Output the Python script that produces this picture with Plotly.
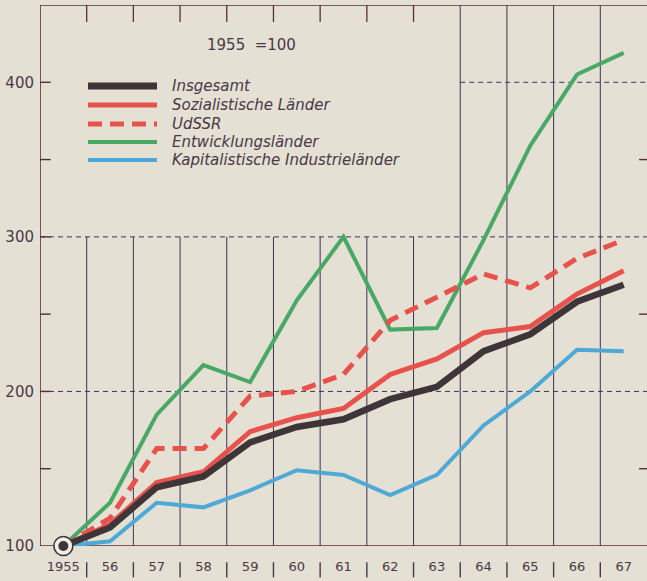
import plotly.graph_objects as go

years = list(range(1955, 1968))
tick_labels = ["1955", "56", "57", "58", "59", "60", "61", "62", "63", "64", "65", "66", "67"]

insgesamt = [100, 112, 138, 145, 167, 177, 182, 195, 203, 226, 237, 258, 269]
sozialistische = [100, 114, 141, 148, 174, 183, 189, 211, 221, 238, 242, 263, 278]
udssr = [100, 118, 163, 163, 197, 200, 211, 246, 261, 276, 267, 286, 298]
entwicklung = [100, 128, 185, 217, 206, 259, 300, 240, 241, 298, 359, 405, 419]
kapitalistische = [100, 103, 128, 125, 136, 149, 146, 133, 146, 178, 200, 227, 226]

names = ["Insgesamt", "Sozialistische Länder", "UdSSR", "Entwicklungsländer",
         "Kapitalistische Industrieländer"]
series = [insgesamt, sozialistische, udssr, entwicklung, kapitalistische]
colors = ["#3d3538", "#e8524c", "#e8524c", "#48a865", "#4fa9d6"]
widths = [6.5, 5, 5, 4, 4]
dashes = ["solid", "solid", "14px,8px", "solid", "solid"]
draw_order = [4, 3, 2, 1, 0]

y_ticks = [100, 200, 300, 400]
BG = "#e4e0d3"
INK = "#4a3848"
GRID = "#3e3358"
AXIS = "#5a2c3c"
FONT = "DejaVu Sans, Liberation Sans, sans-serif"

fig = go.Figure()
for i in draw_order:
    fig.add_trace(go.Scatter(
        x=years, y=series[i], mode="lines", name=names[i],
        line=dict(color=colors[i], width=widths[i], dash=dashes[i]),
        cliponaxis=False, showlegend=False, hoverinfo="skip"))

# start marker (base year)
fig.add_trace(go.Scatter(x=[years[0]], y=[insgesamt[0]], mode="markers",
                         marker=dict(size=19, color="#f2efe6", line=dict(color="#3d3538", width=1.6)),
                         cliponaxis=False, showlegend=False, hoverinfo="skip"))
fig.add_trace(go.Scatter(x=[years[0]], y=[insgesamt[0]], mode="markers",
                         marker=dict(size=10, color="#3d3538"),
                         cliponaxis=False, showlegend=False, hoverinfo="skip"))

shapes = []
x_lo, x_hi = years[0] - 0.5, years[-1] + 0.5
y_lo, y_hi = 100, 450

# frame
shapes.append(dict(type="line", xref="x", yref="y", x0=x_lo, x1=x_lo, y0=y_lo, y1=y_hi,
                   line=dict(color=AXIS, width=1.6), layer="below"))
shapes.append(dict(type="line", xref="x", yref="y", x0=x_lo, x1=x_hi, y0=y_hi, y1=y_hi,
                   line=dict(color=AXIS, width=1.6), layer="below"))
shapes.append(dict(type="line", xref="x", yref="y", x0=x_lo, x1=x_hi, y0=y_lo, y1=y_lo,
                   line=dict(color=AXIS, width=1.6), layer="below"))

# vertical grid lines between years
for k in range(len(years) - 1):
    b = years[k] + 0.5
    if b < 1963:
        shapes.append(dict(type="line", xref="x", yref="y", x0=b, x1=b, y0=100, y1=300,
                           line=dict(color=GRID, width=1), layer="below"))
        shapes.append(dict(type="line", xref="x", yref="y", x0=b, x1=b, y0=439, y1=450,
                           line=dict(color=AXIS, width=1.3), layer="below"))
    else:
        shapes.append(dict(type="line", xref="x", yref="y", x0=b, x1=b, y0=100, y1=450,
                           line=dict(color=GRID, width=1), layer="below"))
    # separators in label row
    shapes.append(dict(type="line", xref="x", yref="paper", x0=b, x1=b, y0=-0.030, y1=-0.058,
                       line=dict(color=INK, width=1.4), layer="below"))

# dashed horizontal lines
for v, start in [(200, x_lo), (300, x_lo), (400, 1963.5)]:
    shapes.append(dict(type="line", xref="x", yref="y", x0=start, x1=x_hi, y0=v, y1=v,
                       line=dict(color=GRID, width=1, dash="5px,4px"), layer="below"))

# left ticks
for v in [150, 200, 250, 300, 350, 400]:
    shapes.append(dict(type="line", xref="x", yref="y", x0=x_lo, x1=x_lo + 0.23, y0=v, y1=v,
                       line=dict(color=AXIS, width=1.4), layer="below"))
# right ticks
for v in [150, 250, 350]:
    shapes.append(dict(type="line", xref="x", yref="y", x0=x_hi - 0.17, x1=x_hi, y0=v, y1=v,
                       line=dict(color=AXIS, width=1.4), layer="below"))

# manual legend
annotations = []
leg_rows = [86, 105, 124, 142, 160]
H = 541.0
W = 607.0
for i in range(len(names)):
    py = (546 - leg_rows[i]) / H
    shapes.append(dict(type="line", xref="paper", yref="paper",
                       x0=(88 - 40) / W, x1=(157 - 40) / W, y0=py, y1=py,
                       line=dict(color=colors[i], width=widths[i] + (0.5 if i == 0 else 0),
                                 dash=dashes[i])))
    annotations.append(dict(xref="paper", yref="paper", x=(170 - 40) / W, y=py,
                            xanchor="left", yanchor="middle", showarrow=False,
                            text="<i>" + names[i] + "</i>",
                            font=dict(family=FONT, size=15, color=INK)))

annotations.append(dict(xref="paper", yref="paper", x=(251 - 40) / W, y=(546 - 45) / H,
                        xanchor="center", yanchor="middle", showarrow=False,
                        text="1955&nbsp;&nbsp;=100", font=dict(family=FONT, size=15, color=INK)))

fig.update_layout(
    width=647, height=581,
    margin=dict(l=40, r=0, t=5, b=35, autoexpand=False),
    paper_bgcolor=BG, plot_bgcolor=BG,
    shapes=shapes, annotations=annotations,
    showlegend=False,
    xaxis=dict(range=[x_lo, x_hi], tickvals=years, ticktext=tick_labels,
               showgrid=False, zeroline=False, showline=False,
               ticks="outside", ticklen=8, tickcolor="rgba(0,0,0,0)",
               tickfont=dict(family=FONT, size=13, color=INK), fixedrange=True),
    yaxis=dict(range=[y_lo, y_hi], tickvals=y_ticks, ticktext=[str(v) for v in y_ticks],
               showgrid=False, zeroline=False, showline=False,
               ticks="outside", ticklen=2, tickcolor="rgba(0,0,0,0)",
               tickfont=dict(family=FONT, size=15, color=INK), fixedrange=True),
)

fig.write_html("out.html", config={"displayModeBar": False},
               post_script="document.body.style.margin='0';document.body.style.overflow='hidden';"
                           "document.body.style.background='" + BG + "';")
